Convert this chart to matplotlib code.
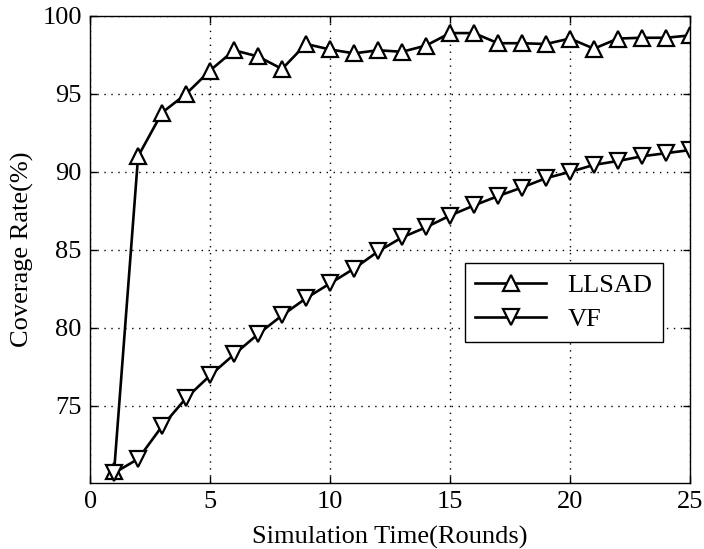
import numpy as np
import matplotlib
matplotlib.use("Agg")
import matplotlib.pyplot as plt

# simulation rounds
rounds = np.arange(1, 26)

# coverage rate (%)
llsad = [70.8, 91.0, 93.8, 95.0, 96.5, 97.8, 97.4, 96.6, 98.2, 97.85,
         97.6, 97.8, 97.7, 98.1, 98.9, 98.9, 98.25, 98.25, 98.2, 98.55,
         97.9, 98.55, 98.6, 98.6, 98.75]
vf = [70.7, 71.6, 73.7, 75.5, 76.95, 78.3, 79.6, 80.8, 81.9, 82.85,
      83.8, 84.9, 85.8, 86.45, 87.2, 87.85, 88.45, 89.0, 89.6, 90.0,
      90.45, 90.7, 91.0, 91.2, 91.4]

yticks = [75, 80, 85, 90, 95, 100]
xticks = [0, 5, 10, 15, 20, 25]

plt.rcParams['font.family'] = ['Liberation Serif', 'DejaVu Serif']
plt.rcParams['font.size'] = 19

fig = plt.figure(figsize=(7.04, 5.49), dpi=100)
ax = fig.add_axes([0.128, 0.120, 0.852, 0.851])

ax.plot(rounds, llsad, color='black', lw=1.9, marker='^', ms=11.5,
        mfc='white', mec='black', mew=1.6, label='LLSAD')
ax.plot(rounds, vf, color='black', lw=1.9, marker='v', ms=11.5,
        mfc='white', mec='black', mew=1.6, label='VF')

ax.set_xlim(0, 25)
ax.set_ylim(70.05, 100)
ax.set_xticks(xticks)
ax.set_yticks(yticks)
ax.grid(True, color='black', linestyle=(0, (1, 4)), linewidth=1)
ax.tick_params(direction='in', top=True, right=True, length=5, width=1, pad=6)
for s in ax.spines.values():
    s.set_linewidth(1)

ax.set_xlabel('Simulation Time(Rounds)', labelpad=9)
ax.set_ylabel('Coverage Rate(%)', labelpad=6)

leg = ax.legend(loc='upper right', bbox_to_anchor=(0.977, 0.499),
                fancybox=False, edgecolor='black', framealpha=1,
                handlelength=2.7, borderpad=0.4, labelspacing=0.4)
leg.get_frame().set_linewidth(1)

fig.savefig('out.png', dpi=100)
